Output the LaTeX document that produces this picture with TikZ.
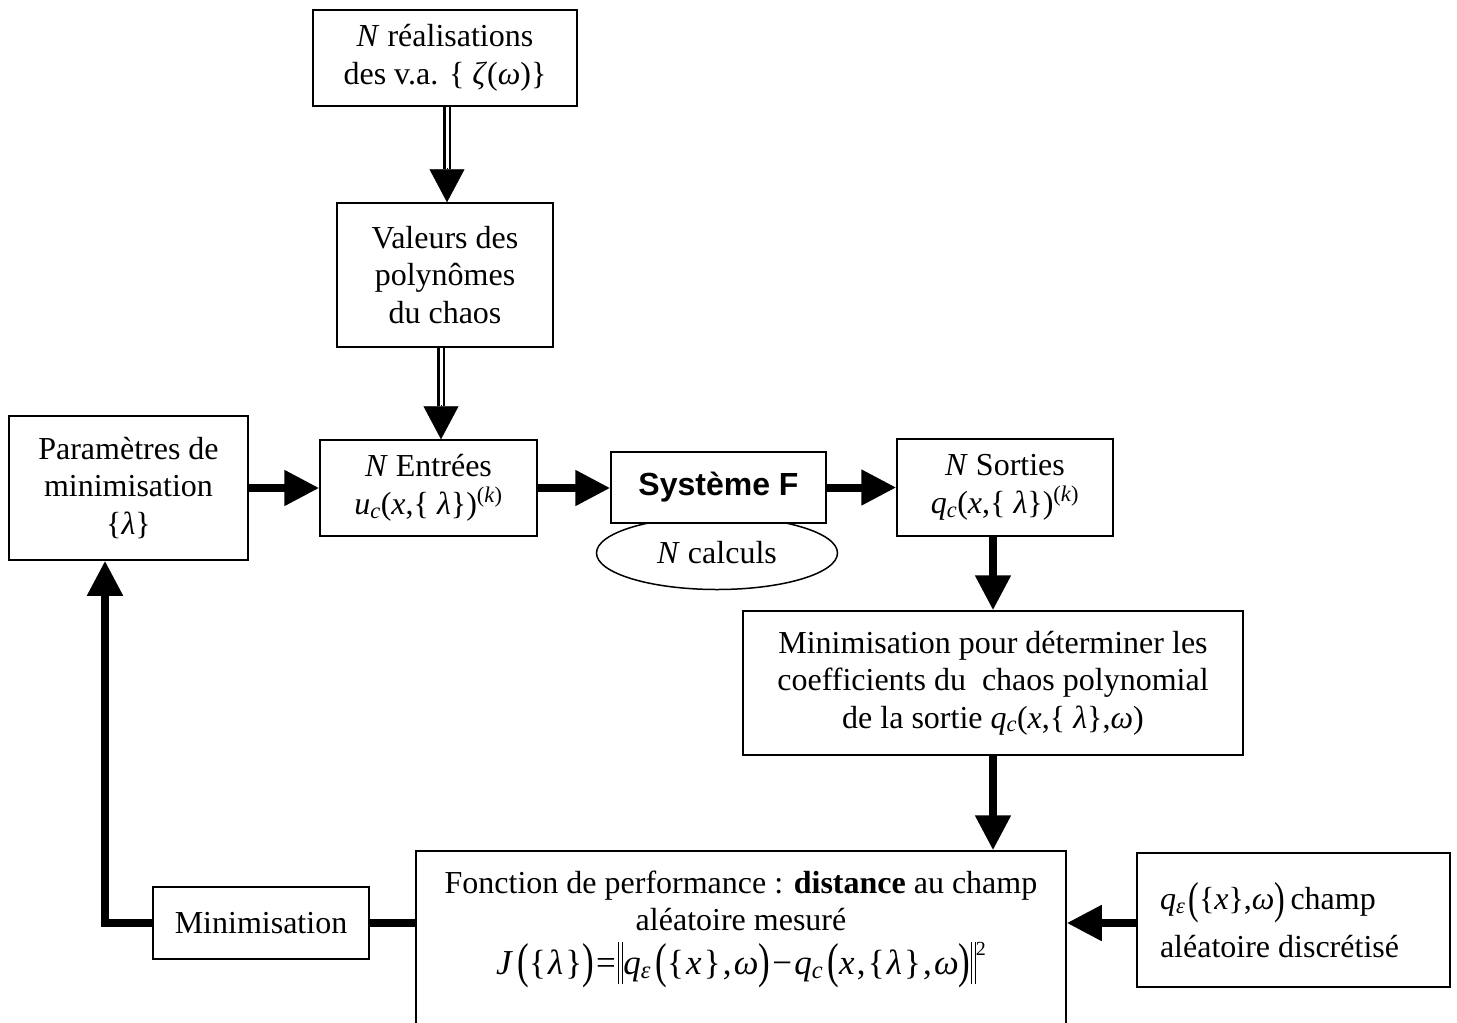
\documentclass[tikz,border=0pt]{standalone}
\usepackage{fontspec}
\setmainfont{Liberation Serif}
\newfontfamily\arialfont{Liberation Sans}
\usepackage{graphicx}
\usetikzlibrary{arrows.meta,shapes.geometric}
\newcommand\bigpar[1]{\raisebox{-3.5pt}{\scalebox{1}[1.4]{#1}}}
\newcommand\normbar{\rule[-10pt]{1.2pt}{42pt}\kern3pt\rule[-10pt]{1.2pt}{42pt}}
\newcommand\sub[1]{\textsubscript{#1}}
\newcommand\gp{\kern2.2pt}
\tikzset{
  box/.style={draw, line width=1.5pt, fill=white, inner sep=0pt, align=center,
    font=\fontsize{32}{37.5}\selectfont},
  txt/.style={inner sep=0pt, align=center, font=\fontsize{32}{37.5}\selectfont},
  thickline/.style={line width=8pt},
  thickarrow/.style={line width=8pt, -{Triangle[length=35pt,width=34pt]}},
  dblline/.style={double, line width=2.4pt, double distance=3pt},
  dbltip/.style={line width=0.5pt, -{Triangle[length=33pt,width=35pt]}}
}
\begin{document}
\begin{tikzpicture}[x=1pt,y=-1pt]
\clip (0,0) rectangle (1457,1023);
\fill[white] (0,0) rectangle (1457,1023);

\node[box, minimum width=264pt, minimum height=96pt] (top) at (445,58)
  {\textit{N} réalisations\\des v.a. \{ \textit{ζ}(\textit{ω})\}};
\node[box, minimum width=216pt, minimum height=144pt] (val) at (445,275)
  {Valeurs des\\polynômes\\du chaos};
\node[box, minimum width=239pt, minimum height=144pt] (param) at (128.5,488)
  {Paramètres de\\minimisation\\\{\textit{λ}\}};
\node[box, minimum width=217pt, minimum height=96pt] (ent) at (428.5,488)
  {\textit{N} Entrées\\\textit{u}\sub{\textit{c}}(\textit{x},\{ \textit{λ}\})\raisebox{3pt}{\textsuperscript{(\textit{k})}}};
\node[box, ellipse, minimum width=241pt, minimum height=73pt] (calc) at (717,553)
  {\textit{N} calculs};
\node[box, minimum width=215pt, minimum height=71pt] (sys) at (718.5,487.5)
  {\arialfont\bfseries Système F};
\node[box, minimum width=216pt, minimum height=97pt] (sor) at (1005,487.5)
  {\textit{N} Sorties\\\textit{q}\sub{\textit{c}}(\textit{x},\{ \textit{λ}\})\raisebox{3pt}{\textsuperscript{(\textit{k})}}};
\node[box, minimum width=500pt, minimum height=144pt] (mini) at (993,683)
  {Minimisation pour déterminer les\\coefficients du\ \ chaos polynomial\\de la sortie \textit{q}\sub{\textit{c}}(\textit{x},\{ \textit{λ}\},\textit{ω})};
\node[box, minimum width=650pt, minimum height=173pt] (perf) at (741,937.5) {};
\node[txt] (perftxt) at ([yshift=8pt]perf.center)
  {Fonction de performance : \textbf{distance} au champ\\aléatoire mesuré\\[6pt]
   {\fontsize{35}{40}\selectfont\textit{J}\gp\gp\bigpar{(}\{\gp\textit{λ}\gp\}\bigpar{)}\gp=\gp\normbar\textit{q}\sub{\textit{ε}}\gp\gp\bigpar{(}\{\gp\textit{x}\gp\}\gp,\gp\textit{ω}\bigpar{)}\gp−\gp\textit{q}\sub{\textit{c}}\gp\gp\bigpar{(}\textit{x}\gp,\gp\{\gp\textit{λ}\gp\}\gp,\gp\textit{ω}\bigpar{)}\normbar\raisebox{19pt}{\fontsize{20}{20}\selectfont 2}}};
\node[box, minimum width=313pt, minimum height=134pt, align=left] (rb) at (1293.5,920)
  {\textit{q}\sub{\textit{ε}}\kern3pt\bigpar{(}\{\textit{x}\},\textit{ω}\bigpar{)}\,champ\\[10pt]aléatoire discrétisé\hspace*{28pt}};
\node[box, minimum width=216pt, minimum height=72pt] (minl) at (261,923)
  {Minimisation};

% double arrows
\draw[dblline] ([xshift=2pt]top.south) -- ([xshift=2pt,yshift=33pt]val.north);
\draw[dbltip] ([xshift=2pt,yshift=34pt]val.north) -- ([xshift=2pt]val.north);
\draw[dblline] ([xshift=-4pt]val.south) -- ([xshift=-4pt,yshift=33pt]val.south |- ent.north);
\draw[dbltip] ([xshift=-4pt,yshift=34pt]val.south |- ent.north) -- ([xshift=-4pt]val.south |- ent.north);

% thick arrows
\draw[thickarrow] (param.east) -- (ent.west);
\draw[thickarrow] (ent.east) -- (ent.east -| sys.west);
\draw[thickarrow] (sys.east) -- (sys.east -| sor.west);
\draw[thickarrow] (sor.south -| mini.north) -- (mini.north);
\draw[thickarrow] (mini.south) -- (mini.south |- perf.north);
\draw[thickarrow] (rb.west |- minl.east) -- (minl.east -| perf.east);
\draw[thickline] (minl.east) -- (minl.east -| perf.west);
\draw[thickarrow] (minl.west) -| ([xshift=-23.5pt]param.south);
\end{tikzpicture}
\end{document}
